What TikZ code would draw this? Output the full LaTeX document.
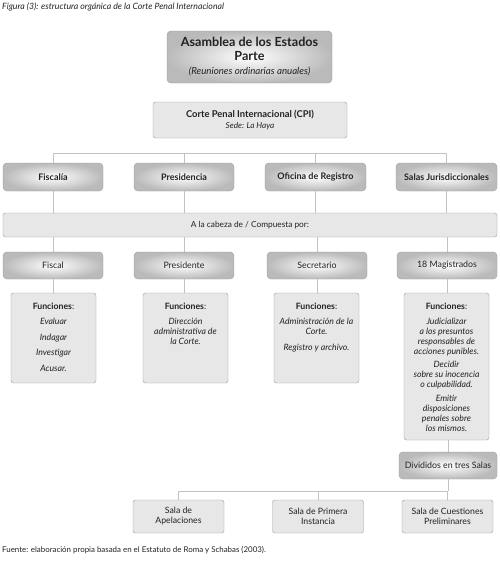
\documentclass[tikz,border=0pt]{standalone}
\usepackage{fontspec}
\setmainfont{Lato}
\definecolor{bordergray}{HTML}{9A9A9A}
\definecolor{boxfill}{HTML}{E7E7E7}
\definecolor{linegray}{HTML}{C2C2C2}
\definecolor{txt}{HTML}{222222}
\begin{document}
\begin{tikzpicture}[x=1pt,y=-1pt,
  gbox/.style={draw=bordergray, rounded corners=4pt, inner color=white, outer color=black!27, inner sep=0pt, text=txt, font=\fontsize{8.8}{10}\selectfont},
  hbox/.style={gbox, font=\fontsize{9}{10}\selectfont\bfseries},
  lbox/.style={draw=bordergray, fill=boxfill, rounded corners=2.5pt, inner sep=0pt, text=txt, font=\fontsize{8.7}{10}\selectfont, align=center},
  ftext/.style={anchor=north, align=center, inner sep=0pt, text=txt, font=\fontsize{8.7}{10}\selectfont\itshape},
  conn/.style={draw=linegray, line width=0.9pt}]
\useasboundingbox (0,0) rectangle (500,571);

\node[anchor=west, inner sep=0pt, text=txt, font=\fontsize{8.7}{10}\selectfont\itshape] (title) at (2,7) {Figura (3): estructura orgánica de la Corte Penal Internacional};

\node[gbox, minimum width=165pt, minimum height=52pt, align=center, font=\fontsize{12.6}{13.5}\selectfont\bfseries] (asam) at (249.5,57) {Asamblea de los Estados\\Parte\\[1pt]{\mdseries\itshape\fontsize{9.7}{10}\selectfont (Reuniones ordinarias anuales)}};

\node[lbox, minimum width=194pt, minimum height=36pt, font=\fontsize{9.4}{11}\selectfont\bfseries] (cpi) at (250,120) {Corte Penal Internacional (CPI)\\{\mdseries\itshape\fontsize{8.2}{9}\selectfont Sede: La Haya}};

% row 1
\node[hbox, minimum width=100pt, minimum height=28pt] (fis) at (53,177) {Fiscalía};
\node[hbox, minimum width=100pt, minimum height=28pt] (pres) at (184,177) {Presidencia};
\node[hbox, minimum width=101pt, minimum height=28pt] (ofi) at (315.5,177) {Oficina de Registro};
\node[hbox, minimum width=101pt, minimum height=28pt] (sal) at (446.5,177) {Salas Jurisdiccionales};

\coordinate (top) at (0,153);
\draw[conn] (fis.north) -- (fis.north |- top) -- (sal.north |- top) -- (sal.north);
\draw[conn] (pres.north) -- (pres.north |- top);
\draw[conn] (ofi.north) -- (ofi.north |- top);

% bar
\node[lbox, minimum width=494pt, minimum height=24pt, font=\fontsize{8.3}{10}\selectfont] (bar) at (250,225) {A la cabeza de / Compuesta por:};
\draw[conn] (fis.south) -- (fis.south |- bar.north);
\draw[conn] (pres.south) -- (pres.south |- bar.north);
\draw[conn] (ofi.south) -- (ofi.south |- bar.north);
\draw[conn] (sal.south) -- (sal.south |- bar.north);

% row 3
\node[gbox, minimum width=100pt, minimum height=27pt] (fiscal) at (53,265.5) {Fiscal};
\node[gbox, minimum width=100pt, minimum height=27pt] (presi) at (184,265.5) {Presidente};
\node[gbox, minimum width=100pt, minimum height=27pt] (secr) at (317,265.5) {Secretario};
\node[gbox, minimum width=100pt, minimum height=27pt] (mag) at (447,265.5) {18 Magistrados};
\draw[conn] (bar.south -| fiscal.north) -- (fiscal.north);
\draw[conn] (bar.south -| presi.north) -- (presi.north);
\draw[conn] (bar.south -| secr.north) -- (secr.north);
\draw[conn] (bar.south -| mag.north) -- (mag.north);

% function boxes
\node[lbox, minimum width=85pt, minimum height=90pt] (f1) at (53.5,338) {};
\node[lbox, minimum width=85pt, minimum height=90pt] (f2) at (185.5,338) {};
\node[lbox, minimum width=85pt, minimum height=90pt] (f3) at (316.5,338) {};
\node[lbox, minimum width=85pt, minimum height=147pt] (f4) at (446.5,366.5) {};
\draw[conn] (fiscal.south) -- (fiscal.south |- f1.north);
\draw[conn] (presi.south) -- (presi.south |- f2.north);
\draw[conn] (secr.south) -- (secr.south |- f3.north);
\draw[conn] (mag.south) -- (mag.south |- f4.north);

\node[ftext] (t1) at ([yshift=-10pt]f1.north) {{\upshape\bfseries Funciones}{\upshape :}\\[5.5pt] Evaluar\\[5.5pt] Indagar\\[5.5pt] Investigar\\[5.5pt] Acusar.};
\node[ftext] (t2) at ([yshift=-10pt]f2.north) {{\upshape\bfseries Funciones}{\upshape :}\\[5pt] Dirección\\ administrativa de\\ la Corte.};
\node[ftext] (t3) at ([yshift=-10pt]f3.north) {{\upshape\bfseries Funciones}{\upshape :}\\[5pt] Administración de la\\ Corte.\\[6pt] Registro y archivo.};
\node[ftext] (t4) at ([yshift=-10pt]f4.north) {{\upshape\bfseries Funciones}{\upshape :}\\[5pt] Judicializar\\ a los presuntos\\ responsables de\\ acciones punibles.\\[3.5pt] Decidir\\ sobre su inocencia\\ o culpabilidad.\\[3.5pt] Emitir\\ disposiciones\\ penales sobre\\ los mismos.};

% divididos
\node[gbox, minimum width=98pt, minimum height=27pt] (div) at (448,465.5) {Divididos en tres Salas};
\draw[conn] (f4.south -| div.north) -- (div.north);

% salas
\node[lbox, minimum width=91pt, minimum height=33pt] (s1) at (178.5,516.5) {Sala de\\Apelaciones};
\node[lbox, minimum width=91pt, minimum height=33pt] (s2) at (318,516.5) {Sala de Primera\\Instancia};
\node[lbox, minimum width=91pt, minimum height=33pt] (s3) at (447.5,516.5) {Sala de Cuestiones\\Preliminares};
\coordinate (mid) at (0,491);
\draw[conn] (div.south) -- (div.south |- mid);
\draw[conn] (s1.north) -- (s1.north |- mid) -- (s3.north |- mid) -- (s3.north);
\draw[conn] (s2.north) -- (s2.north |- mid);

\node[anchor=west, inner sep=0pt, text=txt, font=\fontsize{7.9}{10}\selectfont] (src) at (2,550) {Fuente: elaboración propia basada en el Estatuto de Roma y Schabas (2003).};
\end{tikzpicture}
\end{document}
